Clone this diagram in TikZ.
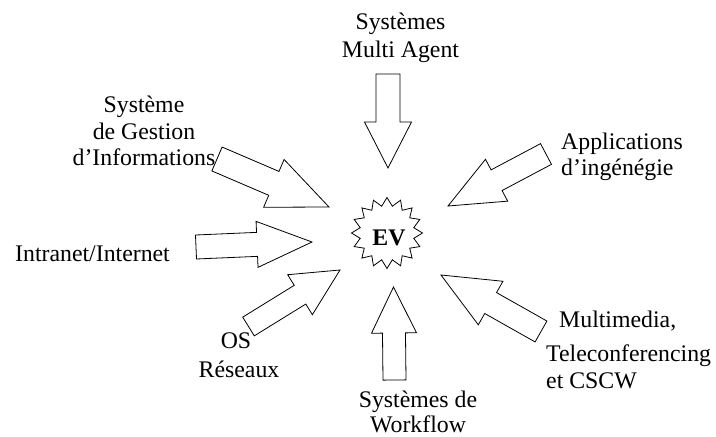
\documentclass[tikz,border=0pt]{standalone}
\usepackage{fontspec}
\setmainfont{Liberation Serif}
\usetikzlibrary{calc,shapes.geometric}

% Block arrow from tail #1 to tip #2:
% #3 shaft half-width, #4 head half-width, #5 head length
\newcommand\blockarrow[5]{%
  \path ($(#2)!#5!(#1)$) coordinate (hb);
  \draw[arrowbody]
    ($(#1)!#3!90:(#2)$) -- ($(hb)!#3!90:(#2)$) -- ($(hb)!#4!90:(#2)$)
    -- (#2)
    -- ($(hb)!#4!-90:(#2)$) -- ($(hb)!#3!-90:(#2)$) -- ($(#1)!#3!-90:(#2)$)
    -- cycle;
}

\begin{document}
\begin{tikzpicture}[x=1pt,y=-1pt,
  arrowbody/.style={draw=black,fill=white,line width=0.8pt,line join=miter},
  lbl/.style={inner sep=0pt,font=\fontsize{23.8}{28}\selectfont},
  lblc/.style={lbl,anchor=base},
  lbll/.style={lbl,anchor=base west}]
\useasboundingbox (0,0) rectangle (716,437);

% central star
\node[star,star points=16,star point ratio=1.3,minimum size=71pt,
      inner sep=0pt,draw,line width=0.8pt] (ev) at (387,233) {};
\node[lbl,font=\fontsize{23.8}{28}\selectfont\bfseries] (evlabel) at (389,238) {EV};

% arrow end points (tail, tip)
\coordinate (t1) at (388,74);    \coordinate (p1) at (388,168);
\coordinate (t2) at (394.5,380); \coordinate (p2) at (393.5,287);
\coordinate (t3) at (196,247);   \coordinate (p3) at (312,242);
\coordinate (t4) at (217,159);   \coordinate (p4) at (329,207);
\coordinate (t5) at (546,154);   \coordinate (p5) at (448,206);
\coordinate (t6) at (248.5,326.5); \coordinate (p6) at (340,270);
\coordinate (t7) at (541,331.5); \coordinate (p7) at (441,275);

\blockarrow{t1}{p1}{12pt}{23.5pt}{46pt}
\blockarrow{t2}{p2}{11.5pt}{22.5pt}{46pt}
\blockarrow{t3}{p3}{12pt}{23pt}{55pt}
\blockarrow{t4}{p4}{13pt}{26pt}{60pt}
\blockarrow{t5}{p5}{11.7pt}{23.7pt}{55pt}
\blockarrow{t6}{p6}{11pt}{23.5pt}{47pt}
\blockarrow{t7}{p7}{12pt}{25pt}{57pt}

% labels
\node[lblc] (sma1) at (400.5,29) {Systèmes};
\node[lblc] (sma2) at (400.5,57) {Multi Agent};

\node[lblc] (sgi1) at (144,112) {Système};
\node[lblc] (sgi2) at (144,139) {de Gestion};
\node[lblc] (sgi3) at (144,165) {d’Informations};

\node[lbll] (net) at (15,261) {Intranet/Internet};

\node[lbll] (app1) at (561,149) {Applications};
\node[lbll] (app2) at (561,175) {d’ingénégie};

\node[lbll] (mm1) at (559,327) {Multimedia,};
\node[lbll] (mm2) at (546,361) {Teleconferencing};
\node[lbll] (mm3) at (546,388) {et CSCW};

\node[lblc] (os1) at (236,348) {OS};
\node[lblc] (os2) at (239,377) {Réseaux};

\node[lblc] (wf1) at (418,407) {Systèmes de};
\node[lblc] (wf2) at (418,432) {Workflow};
\end{tikzpicture}
\end{document}
